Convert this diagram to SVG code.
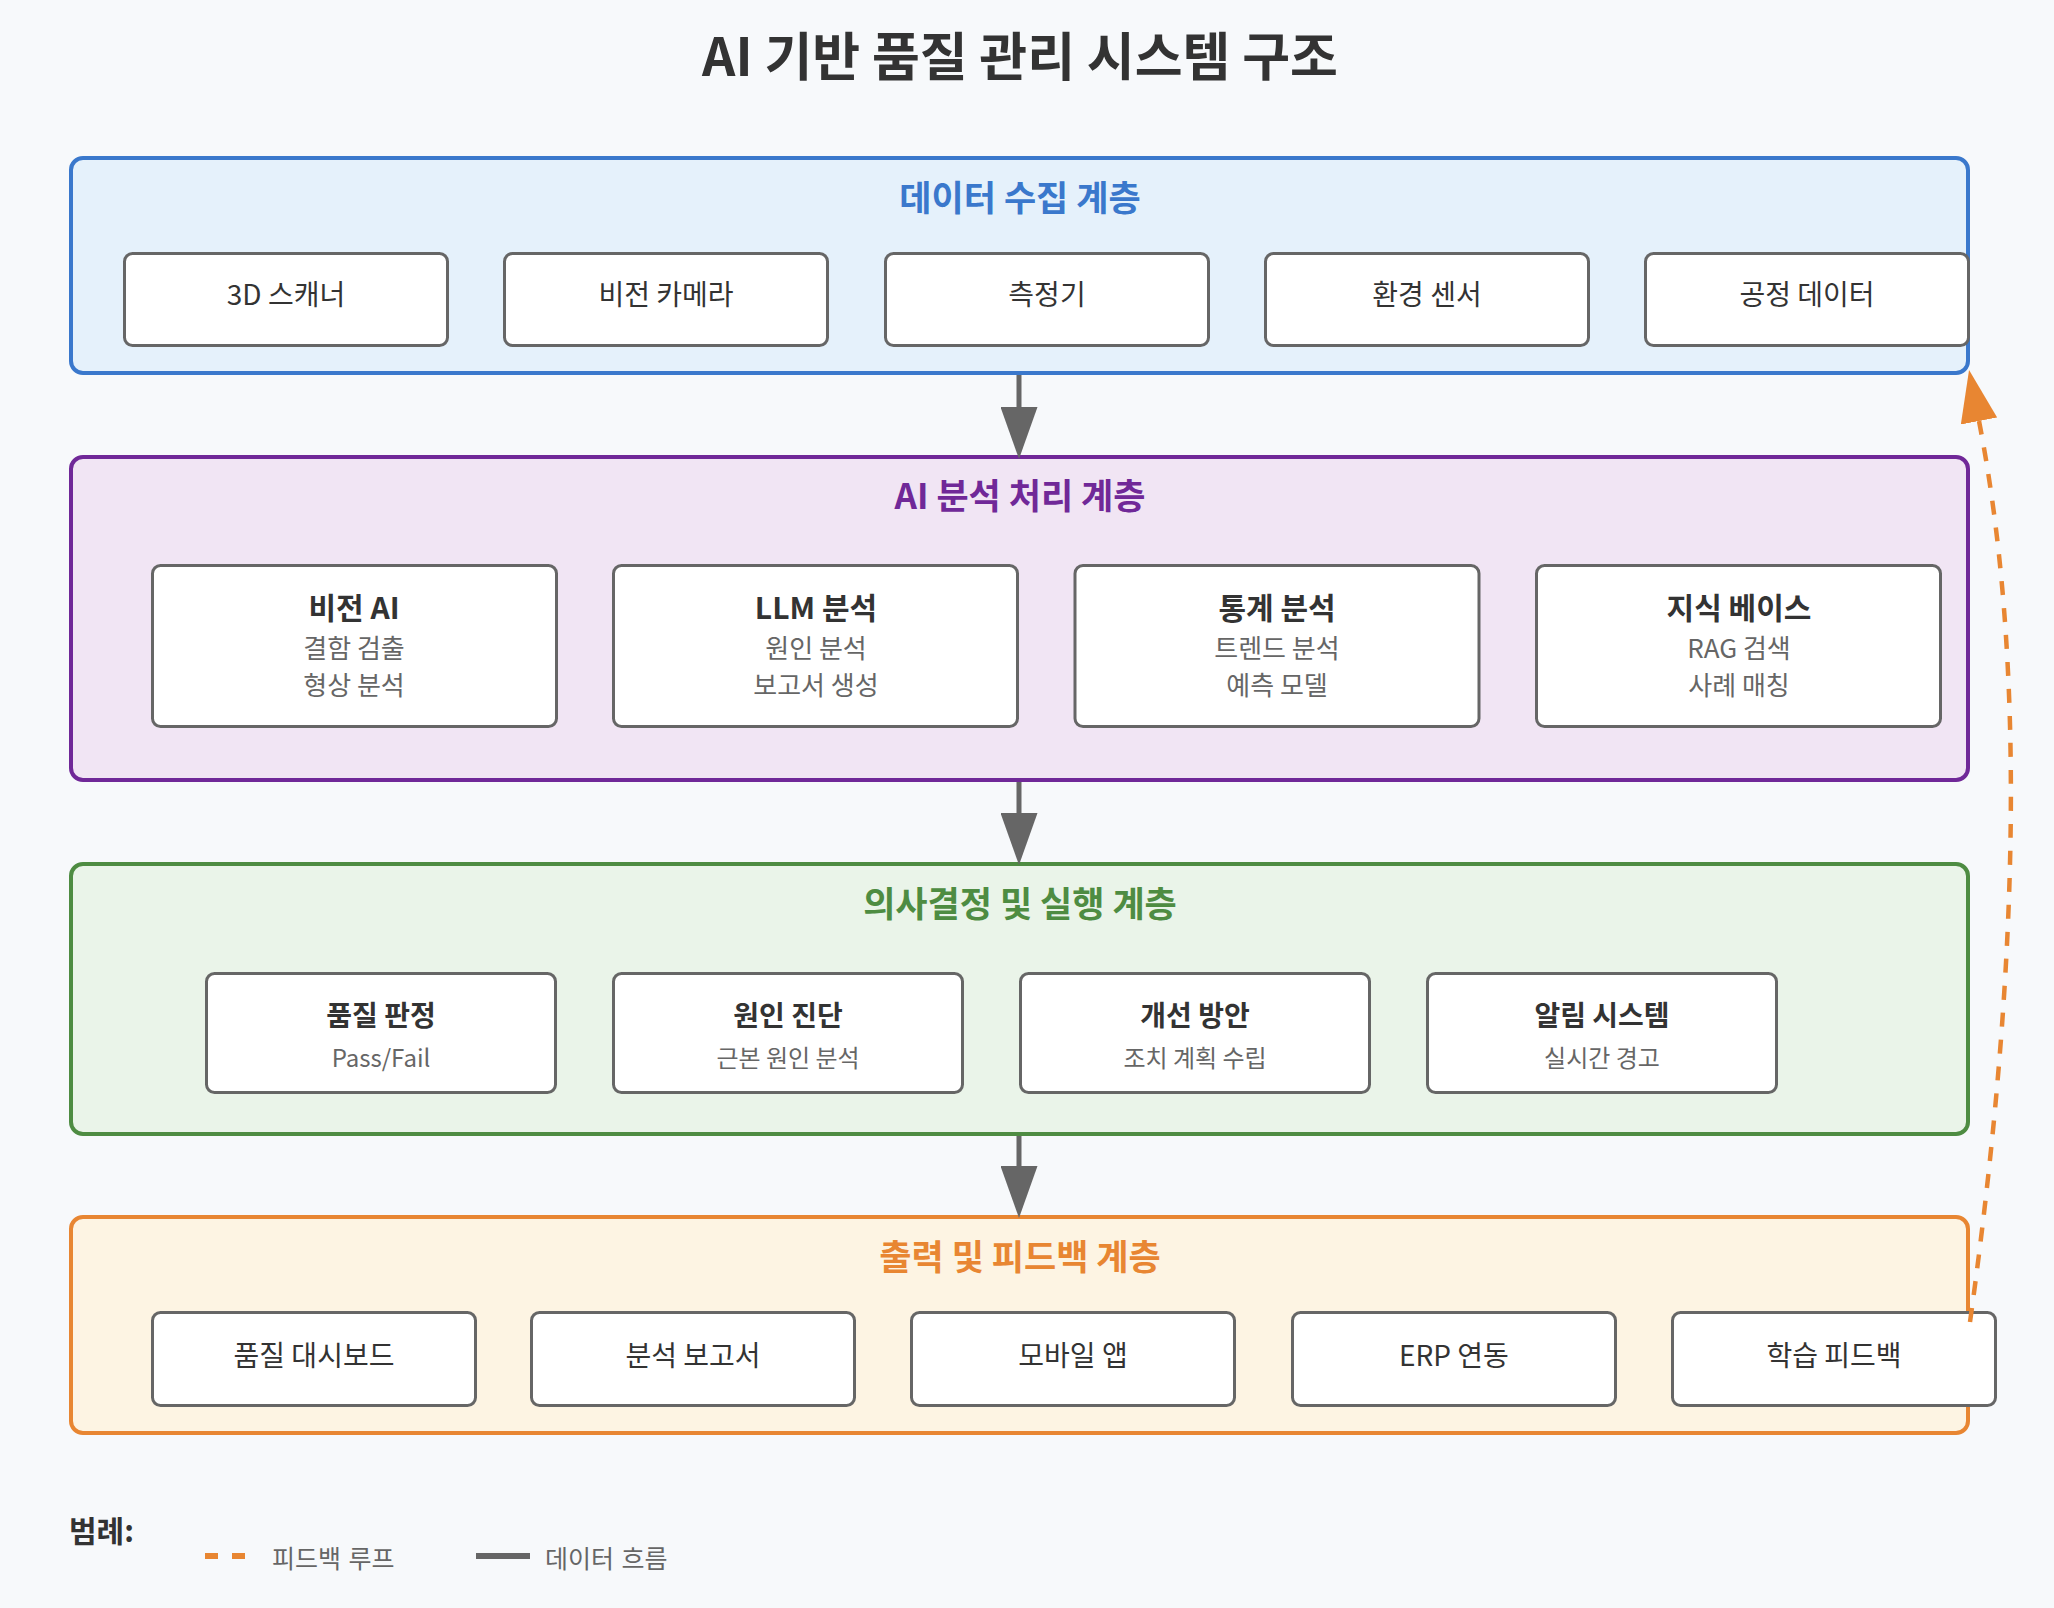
<svg xmlns="http://www.w3.org/2000/svg" width="2054" height="1608" viewBox="0 0 2054 1608">
<defs>
<style>
text{font-family:"Noto Sans CJK KR","Noto Sans",sans-serif;text-anchor:middle}
.title{font-size:52px;font-weight:700;fill:#333}
.lt{font-size:35px;font-weight:700}
.layer{stroke-width:4}
.node{fill:#fff;stroke:#666;stroke-width:3}
.nt{font-size:28px;fill:#333}
.nb{font-size:30px;font-weight:700;fill:#333}
.nb3{font-size:28px;font-weight:700;fill:#333}
.ns{font-size:26px;fill:#666}
.ns3{font-size:24px;fill:#666}
.flow{stroke:#666;stroke-width:5;fill:none}
.fb{stroke:#e88632;stroke-width:4.5;fill:none;stroke-dasharray:14 13}
.lg{font-size:25px;fill:#666;text-anchor:start;word-spacing:2px}
</style>
<marker id="ah" markerUnits="userSpaceOnUse" viewBox="0 0 52 37" markerWidth="52" markerHeight="37" refX="0" refY="18.5" orient="auto">
<path d="M0,0 L52,18.5 L0,37 z" fill="#666"/>
</marker>
<marker id="ahO" markerUnits="userSpaceOnUse" viewBox="0 0 52 37" markerWidth="52" markerHeight="37" refX="0" refY="18.5" orient="auto">
<path d="M0,0 L52,18.5 L0,37 z" fill="#e88632"/>
</marker>
</defs>
<rect width="2054" height="1608" fill="#f7f9fb"/>
<text class="title" x="1020" y="76">AI 기반 품질 관리 시스템 구조</text>

<g id="layer-data">
<rect class="layer" x="71" y="158" width="1897" height="215" rx="12" fill="#e5f1fb" stroke="#3a78cc"/>
<text class="lt" x="1020" y="211" fill="#3a78cc">데이터 수집 계층</text>
</g>
<g id="layer-ai">
<rect class="layer" x="71" y="457" width="1897" height="323" rx="12" fill="#f1e5f4" stroke="#702898"/>
<text class="lt" x="1020" y="509" fill="#702898">AI 분석 처리 계층</text>
</g>
<g id="layer-decision">
<rect class="layer" x="71" y="864" width="1897" height="270" rx="12" fill="#eaf4e9" stroke="#4e8c42"/>
<text class="lt" x="1020" y="917" fill="#4e8c42">의사결정 및 실행 계층</text>
</g>
<g id="layer-output">
<rect class="layer" x="71" y="1217" width="1897" height="216" rx="12" fill="#fdf4e3" stroke="#e88632"/>
<text class="lt" x="1020" y="1270" fill="#e88632">출력 및 피드백 계층</text>
</g>

<g id="node-3d-scanner"><rect class="node" x="124.5" y="253.5" width="323" height="92" rx="8"/><text class="nt" x="286" y="305">3D 스캐너</text></g>
<g id="node-vision-camera"><rect class="node" x="504.5" y="253.5" width="323" height="92" rx="8"/><text class="nt" x="666" y="305">비전 카메라</text></g>
<g id="node-measure"><rect class="node" x="885.5" y="253.5" width="323" height="92" rx="8"/><text class="nt" x="1047" y="305">측정기</text></g>
<g id="node-env-sensor"><rect class="node" x="1265.5" y="253.5" width="323" height="92" rx="8"/><text class="nt" x="1427" y="305">환경 센서</text></g>
<g id="node-process-data"><rect class="node" x="1645.5" y="253.5" width="323" height="92" rx="8"/><text class="nt" x="1807" y="305">공정 데이터</text></g>

<g id="node-vision-ai"><rect class="node" x="152.5" y="565.5" width="404" height="161" rx="8"/><text class="nb" x="354" y="619">비전 AI</text><text class="ns" x="354" y="658">결함 검출</text><text class="ns" x="354" y="695">형상 분석</text></g>
<g id="node-llm"><rect class="node" x="613.5" y="565.5" width="404" height="161" rx="8"/><text class="nb" x="816" y="619">LLM 분석</text><text class="ns" x="816" y="658">원인 분석</text><text class="ns" x="816" y="695">보고서 생성</text></g>
<g id="node-stats"><rect class="node" x="1075" y="565.5" width="404" height="161" rx="8"/><text class="nb" x="1277" y="619">통계 분석</text><text class="ns" x="1277" y="658">트렌드 분석</text><text class="ns" x="1277" y="695">예측 모델</text></g>
<g id="node-knowledge"><rect class="node" x="1536.5" y="565.5" width="404" height="161" rx="8"/><text class="nb" x="1739" y="619">지식 베이스</text><text class="ns" x="1739" y="658">RAG 검색</text><text class="ns" x="1739" y="695">사례 매칭</text></g>

<g id="node-quality-judge"><rect class="node" x="206.5" y="973.5" width="349" height="119" rx="8"/><text class="nb3" x="381" y="1026">품질 판정</text><text class="ns3" x="381" y="1067">Pass/Fail</text></g>
<g id="node-cause"><rect class="node" x="613.5" y="973.5" width="349" height="119" rx="8"/><text class="nb3" x="788" y="1026">원인 진단</text><text class="ns3" x="788" y="1067">근본 원인 분석</text></g>
<g id="node-improve"><rect class="node" x="1020.5" y="973.5" width="349" height="119" rx="8"/><text class="nb3" x="1195" y="1026">개선 방안</text><text class="ns3" x="1195" y="1067">조치 계획 수립</text></g>
<g id="node-alert"><rect class="node" x="1427.5" y="973.5" width="349" height="119" rx="8"/><text class="nb3" x="1602" y="1026">알림 시스템</text><text class="ns3" x="1602" y="1067">실시간 경고</text></g>

<g id="node-dashboard"><rect class="node" x="152.5" y="1312.5" width="323" height="93" rx="8"/><text class="nt" x="314" y="1366">품질 대시보드</text></g>
<g id="node-report"><rect class="node" x="531.5" y="1312.5" width="323" height="93" rx="8"/><text class="nt" x="693" y="1366">분석 보고서</text></g>
<g id="node-mobile"><rect class="node" x="911.5" y="1312.5" width="323" height="93" rx="8"/><text class="nt" x="1073" y="1366">모바일 앱</text></g>
<g id="node-erp"><rect class="node" x="1292.5" y="1312.5" width="323" height="93" rx="8"/><text class="nt" x="1454" y="1366">ERP 연동</text></g>
<g id="node-learning"><rect class="node" x="1672.5" y="1312.5" width="323" height="93" rx="8"/><text class="nt" x="1834" y="1366">학습 피드백</text></g>

<g id="connectors">
<line class="flow" x1="1019" y1="375" x2="1019" y2="407" marker-end="url(#ah)"/>
<line class="flow" x1="1019" y1="782" x2="1019" y2="813" marker-end="url(#ah)"/>
<line class="flow" x1="1019" y1="1136" x2="1019" y2="1166" marker-end="url(#ah)"/>
<path class="fb" d="M1970,1322 Q2047,770 1979,421" marker-end="url(#ahO)"/>
</g>

<g id="legend">
<text x="69" y="1542" style="font-size:30px;font-weight:700;fill:#333;text-anchor:start">범례:</text>
<line x1="205" y1="1556" x2="245" y2="1556" stroke="#e88632" stroke-width="6" stroke-dasharray="13 14"/>
<text class="lg" x="272" y="1568">피드백 루프</text>
<line x1="476" y1="1556" x2="530" y2="1556" stroke="#666" stroke-width="6"/>
<text class="lg" x="545" y="1568">데이터 흐름</text>
</g>
</svg>
